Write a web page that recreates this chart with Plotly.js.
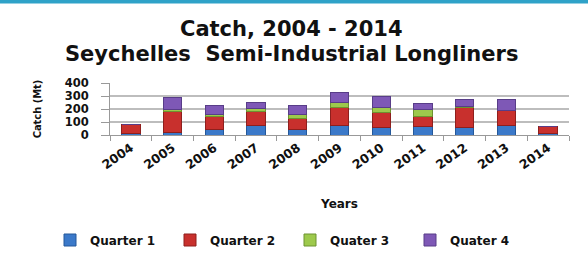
<!DOCTYPE html>
<html>
<head>
<meta charset="utf-8">
<script src="https://cdn.plot.ly/plotly-3.0.1.min.js"></script>
<style>
html,body{margin:0;padding:0;background:#fff;}
#chart{width:588px;height:260px;}
</style>
</head>
<body>
<div id="chart"></div>
<script>
const years = ['2004','2005','2006','2007','2008','2009','2010','2011','2012','2013','2014'];
const quarter1 = [8, 20, 45, 70, 45, 75, 60, 65, 60, 70, 10];
const quarter2 = [72, 160, 95, 110, 80, 140, 110, 80, 150, 115, 55];
const quater3 = [0, 15, 20, 22, 30, 35, 45, 50, 10, 5, 0];
const quater4 = [0, 97, 65, 45, 75, 80, 80, 47, 50, 80, 0];
const seriesNames = ['Quarter 1', 'Quarter 2', 'Quater 3', 'Quater 4'];
const seriesColors = ['#3b79c9', '#c8302d', '#9dc94c', '#7e58b6'];
const seriesEdges = ['#24589a', '#8f1f1d', '#6d9330', '#583d88'];
const seriesValues = [quarter1, quarter2, quater3, quater4];
const titleLines = ['Catch, 2004 - 2014', 'Seychelles  Semi-Industrial Longliners'];

const traces = seriesValues.map((vals, i) => ({
  type: 'bar',
  name: seriesNames[i],
  x: years,
  y: vals,
  marker: {color: seriesColors[i], line: {color: seriesEdges[i], width: 1}},
  hoverinfo: 'skip'
}));

const bold = (size) => ({family: 'DejaVu Sans, sans-serif', size: size, color: '#111', weight: 'bold'});

const layout = {
  width: 588, height: 260,
  barmode: 'stack',
  bargap: 0.56,
  paper_bgcolor: '#ffffff',
  plot_bgcolor: '#ffffff',
  margin: {l: 110, r: 19, t: 84, b: 124},
  xaxis: {
    type: 'category',
    tickangle: -35,
    tickfont: bold(12.5),
    ticks: 'outside', tickson: 'boundaries', ticklen: 5, tickcolor: '#999', tickwidth: 1,
    showline: true, linecolor: '#999', linewidth: 1,
    showgrid: false,
    title: {text: 'Years', font: bold(12), standoff: 28}
  },
  yaxis: {
    range: [0, 400],
    tickvals: [0, 100, 200, 300, 400],
    ticktext: ['0', '100', '200', '300', '400'],
    tickfont: {family: 'DejaVu Sans, sans-serif', size: 11.5, color: '#111', weight: 'bold'},
    ticks: 'outside', ticklen: 8, tickcolor: '#999',
    ticklabelstandoff: 10,
    showline: true, linecolor: '#999', linewidth: 1,
    showgrid: true, gridcolor: '#bdbdbd', gridwidth: 1.5,
    zeroline: false,
    title: {text: 'Catch (Mt)', font: {family: 'DejaVu Sans Condensed, DejaVu Sans, sans-serif', size: 11, color: '#111', weight: 'bold'}, standoff: 20}
  },
  showlegend: true,
  legend: {
    orientation: 'h', xref: 'paper', x: (50 - 110) / 459, xanchor: 'left',
    yref: 'paper', y: -2, yanchor: 'middle',
    font: bold(12),
    traceorder: 'normal',
    itemwidth: 30,
    entrywidth: 75
  },
  annotations: titleLines.map((t, i) => ({
    text: t, xref: 'paper', yref: 'paper', x: (291 - 110) / 459, y: (136 - (30 + 25 * i)) / 52,
    xanchor: 'center', yanchor: 'middle', showarrow: false,
    font: bold(21)
  })),
  shapes: [{
    type: 'rect', xref: 'paper', yref: 'paper',
    x0: -0.3, x1: 1.1, y0: 2.53, y1: 2.7,
    fillcolor: '#2fa2c8', line: {width: 0}
  }]
};

Plotly.newPlot('chart', traces, layout, {displayModeBar: false, staticPlot: true});
</script>
</body>
</html>
